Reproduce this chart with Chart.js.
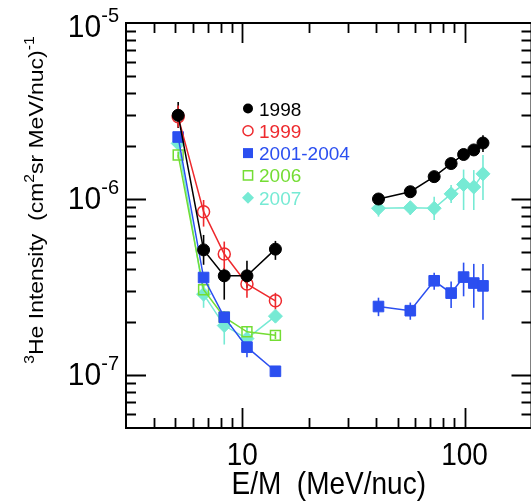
<!DOCTYPE html>
<html><head><meta charset="utf-8">
<script src="https://cdn.jsdelivr.net/npm/chart.js@4/dist/chart.umd.min.js"></script>
<style>
html,body{margin:0;padding:0;background:#fff;overflow:hidden;}
#wrap{position:relative;width:540px;height:504px;}
</style></head><body>
<div id="wrap"><canvas id="c" width="540" height="504"></canvas></div>
<script>
// ---------- data ----------
const seriesNames = ['1998', '1999', '2001-2004', '2006', '2007'];
const energyLow  = [5.15, 6.7, 8.3, 10.5, 14.1];          // MeV/nuc
const energyHigh = [41, 57, 73, 87, 99, 110, 121];         // MeV/nuc

const i1998   = [2.99e-6, 5.14e-7, 3.66e-7, 3.66e-7, 5.19e-7, 1.00e-6, 1.10e-6, 1.34e-6, 1.59e-6, 1.79e-6, 1.90e-6, 2.08e-6];
const i1998Lo = [2.53e-6, 4.23e-7, 2.68e-7, 3.13e-7, 4.51e-7, 0.96e-6, 1.06e-6, 1.29e-6, 1.53e-6, 1.71e-6, 1.80e-6, 1.85e-6];
const i1998Hi = [3.56e-6, 6.25e-7, 4.06e-7, 4.46e-7, 5.78e-7, 1.04e-6, 1.14e-6, 1.39e-6, 1.65e-6, 1.87e-6, 2.02e-6, 2.30e-6];

const i1999   = [2.93e-6, 8.47e-7, 4.87e-7, 3.29e-7, 2.64e-7];
const i1999Lo = [2.55e-6, 6.97e-7, 3.96e-7, 2.75e-7, 2.35e-7];
const i1999Hi = [3.40e-6, 9.87e-7, 5.73e-7, 3.71e-7, 2.93e-7];

const i2001   = [2.25e-6, 3.58e-7, 2.13e-7, 1.44e-7, 1.05e-7, 2.45e-7, 2.32e-7, 3.43e-7, 2.92e-7, 3.60e-7, 3.33e-7, 3.21e-7];
const i2001Lo = [2.10e-6, 3.35e-7, 1.95e-7, 1.26e-7, 0.99e-7, 2.16e-7, 2.06e-7, 3.05e-7, 2.40e-7, 2.80e-7, 2.41e-7, 2.06e-7];
const i2001Hi = [2.40e-6, 3.80e-7, 2.30e-7, 1.55e-7, 1.11e-7, 2.75e-7, 2.58e-7, 3.81e-7, 3.40e-7, 4.35e-7, 4.28e-7, 4.28e-7];

const i2006   = [1.78e-6, 3.05e-7, 2.13e-7, 1.76e-7, 1.68e-7];
const i2006Lo = [1.70e-6, 2.85e-7, 1.95e-7, 1.62e-7, 1.60e-7];
const i2006Hi = [1.86e-6, 3.25e-7, 2.30e-7, 1.90e-7, 1.76e-7];

const i2007   = [2.07e-6, 2.88e-7, 1.91e-7, 1.61e-7, 2.16e-7, 8.86e-7, 8.93e-7, 8.86e-7, 1.07e-6, 1.21e-6, 1.17e-6, 1.39e-6];
const i2007Lo = [1.95e-6, 2.41e-7, 1.49e-7, 1.34e-7, 2.05e-7, 7.94e-7, 8.11e-7, 7.60e-7, 9.49e-7, 8.66e-7, 8.66e-7, 9.87e-7];
const i2007Hi = [2.20e-6, 3.26e-7, 2.30e-7, 1.86e-7, 2.28e-7, 9.87e-7, 9.65e-7, 1.03e-6, 1.20e-6, 1.47e-6, 1.46e-6, 1.78e-6];

const xTickLabels = [10, 100];
const yTickExponents = [-7, -6, -5];
const xTitle = 'E/M  (MeV/nuc)';

// ---------- style ----------
const colors = ['#000000', '#ee2a2e', '#2b4ff0', '#74dd34', '#76ead4'];
const styles = [
  {pointStyle: 'circle', radius: 6, filled: true},
  {pointStyle: 'circle', radius: 6, filled: false},
  {pointStyle: 'rect', radius: 7.5, filled: true},
  {pointStyle: 'rect', radius: 7, filled: false},
  {pointStyle: 'rectRot', radius: 7, filled: true}
];
const FONT = '"Liberation Sans", Arial, Helvetica, sans-serif';
const S = 1.12; // vertical stretch of lettering in the reference

const seriesY  = [i1998, i1999, i2001, i2006, i2007];
const seriesLo = [i1998Lo, i1999Lo, i2001Lo, i2006Lo, i2007Lo];
const seriesHi = [i1998Hi, i1999Hi, i2001Hi, i2006Hi, i2007Hi];
const allEnergy = energyLow.concat(energyHigh);

const datasets = seriesNames.map((name, k) => {
  const vals = seriesY[k];
  return {
    label: name,
    data: vals.map((v, j) => ({x: allEnergy[j], y: v})),
    errLo: seriesLo[k],
    errHi: seriesHi[k],
    borderColor: colors[k],
    backgroundColor: styles[k].filled ? colors[k] : 'rgba(0,0,0,0)',
    pointBorderColor: colors[k],
    pointBackgroundColor: styles[k].filled ? colors[k] : 'rgba(0,0,0,0)',
    pointStyle: styles[k].pointStyle,
    pointRadius: styles[k].radius,
    pointBorderWidth: styles[k].filled ? 1 : 1.5,
    borderWidth: 1.5,
    tension: 0,
    fill: false,
    order: k,
    segment: {
      borderColor: c => (c.p0.parsed.x < 20 && c.p1.parsed.x > 20) ? 'rgba(0,0,0,0)' : undefined
    }
  };
});

function stretchedText(ctx, text, x, y, size, align, color, sy) {
  ctx.save();
  ctx.translate(x, y);
  ctx.scale(1, sy === undefined ? S : sy);
  ctx.font = size + 'px ' + FONT;
  ctx.textAlign = align;
  ctx.textBaseline = 'alphabetic';
  ctx.fillStyle = color;
  ctx.fillText(text, 0, 0);
  ctx.restore();
}

function drawMarker(ctx, style, color, x, y, r) {
  ctx.save();
  ctx.strokeStyle = color;
  ctx.fillStyle = color;
  ctx.lineWidth = 1.5;
  ctx.beginPath();
  if (style.pointStyle === 'circle') {
    ctx.arc(x, y, r, 0, Math.PI * 2);
  } else if (style.pointStyle === 'rect') {
    ctx.rect(x - r, y - r, 2 * r, 2 * r);
  } else {
    ctx.moveTo(x, y - r); ctx.lineTo(x + r, y); ctx.lineTo(x, y + r); ctx.lineTo(x - r, y); ctx.closePath();
  }
  if (style.filled) ctx.fill(); else ctx.stroke();
  ctx.restore();
}

const errorBars = {
  id: 'errorBars',
  beforeDatasetsDraw(chart) {
    const ctx = chart.ctx, ys = chart.scales.y;
    chart.data.datasets.forEach((ds, i) => {
      const meta = chart.getDatasetMeta(i);
      ctx.save();
      ctx.strokeStyle = ds.borderColor;
      ctx.lineWidth = 1.6;
      meta.data.forEach((pt, j) => {
        const y0 = ys.getPixelForValue(ds.errLo[j]);
        const y1 = ys.getPixelForValue(ds.errHi[j]);
        ctx.beginPath(); ctx.moveTo(pt.x, y0); ctx.lineTo(pt.x, y1); ctx.stroke();
      });
      ctx.restore();
    });
  }
};

const frame = {
  id: 'frame',
  afterDraw(chart) {
    const ctx = chart.ctx, a = chart.chartArea, xs = chart.scales.x, ys = chart.scales.y;
    ctx.save();
    ctx.strokeStyle = '#000';
    ctx.lineWidth = 2;
    ctx.strokeRect(a.left, a.top, a.right - a.left, a.bottom - a.top);
    ctx.lineWidth = 1.8;
    // x ticks
    for (let e = 0; e <= 2; e++) {
      for (let m = 1; m <= 9; m++) {
        const v = m * Math.pow(10, e);
        if (v <= xs.min || v >= xs.max) continue;
        const px = Math.round(xs.getPixelForValue(v)) + 0.5;
        const len = m === 1 ? 20 : 10;
        ctx.beginPath();
        ctx.moveTo(px, a.bottom); ctx.lineTo(px, a.bottom - len);
        ctx.moveTo(px, a.top); ctx.lineTo(px, a.top + len);
        ctx.stroke();
      }
    }
    // y ticks
    for (let e = -8; e <= -5; e++) {
      for (let m = 1; m <= 9; m++) {
        const v = m * Math.pow(10, e);
        if (v <= ys.min * 1.0001 || v >= ys.max * 0.9999) continue;
        const py = Math.round(ys.getPixelForValue(v)) + 0.5;
        const len = m === 1 ? 20 : 10;
        ctx.beginPath();
        ctx.moveTo(a.left, py); ctx.lineTo(a.left + len, py);
        ctx.moveTo(a.right, py); ctx.lineTo(a.right - len, py);
        ctx.stroke();
      }
    }
    ctx.restore();

    // x tick labels
    xTickLabels.forEach(v => {
      stretchedText(ctx, String(v), xs.getPixelForValue(v), a.bottom + 37, 28, 'center', '#000');
    });
    // y tick labels (10 with superscript exponent)
    yTickExponents.forEach(ex => {
      const py = ys.getPixelForValue(Math.pow(10, ex));
      const base = Math.max(py + 10, 37);
      const sup = String(ex);
      ctx.save();
      ctx.font = '20px ' + FONT;
      const wSup = ctx.measureText(sup).width;
      ctx.restore();
      const right = a.left - 7;
      stretchedText(ctx, '10', right - wSup, base, 30, 'right', '#000', 1.02);
      stretchedText(ctx, sup, right - wSup, base - 15, 20, 'left', '#000', 1.02);
    });
    // x title
    stretchedText(ctx, xTitle, (a.left + a.right) / 2, 494, 28, 'center', '#000');

    // y title, rotated, with superscripts
    const F = 20.5, Fs = 14;
    const runs = [
      {t: '3', sup: true}, {t: 'He Intensity  (cm', sup: false}, {t: '2', sup: true},
      {t: 'sr MeV/nuc)', sup: false}, {t: '-1', sup: true}
    ];
    ctx.save();
    let total = 0;
    runs.forEach(r => { ctx.font = (r.sup ? Fs : F) + 'px ' + FONT; r.w = ctx.measureText(r.t).width; total += r.w; });
    ctx.translate(43, 200);
    ctx.scale(1, S);
    ctx.rotate(-Math.PI / 2);
    ctx.fillStyle = '#000';
    ctx.textBaseline = 'alphabetic';
    ctx.textAlign = 'left';
    let x = -total / 2;
    runs.forEach(r => {
      ctx.font = (r.sup ? Fs : F) + 'px ' + FONT;
      ctx.fillText(r.t, x, r.sup ? -9 : 0);
      x += r.w;
    });
    ctx.restore();

    // legend
    const lx = 248, tx = 259, top = 108.5, step = 22.3;
    const legR = [5, 5, 5, 4.6, 6];
    seriesNames.forEach((name, k) => {
      const cy = top + k * step;
      drawMarker(ctx, styles[k], colors[k], lx, cy, legR[k]);
      stretchedText(ctx, name, tx, cy + 7, 19, 'left', colors[k], 1.0);
    });
  }
};

new Chart(document.getElementById('c'), {
  type: 'line',
  data: {datasets},
  options: {
    responsive: false,
    animation: false,
    devicePixelRatio: 1,
    layout: {padding: {left: 126, top: 23, right: 8, bottom: 76}},
    plugins: {legend: {display: false}, tooltip: {enabled: false}, title: {display: false}},
    scales: {
      x: {type: 'logarithmic', min: 3, max: 200, display: false},
      y: {type: 'logarithmic', min: 5e-8, max: 1e-5, display: false}
    }
  },
  plugins: [errorBars, frame]
});
</script>
</body></html>
